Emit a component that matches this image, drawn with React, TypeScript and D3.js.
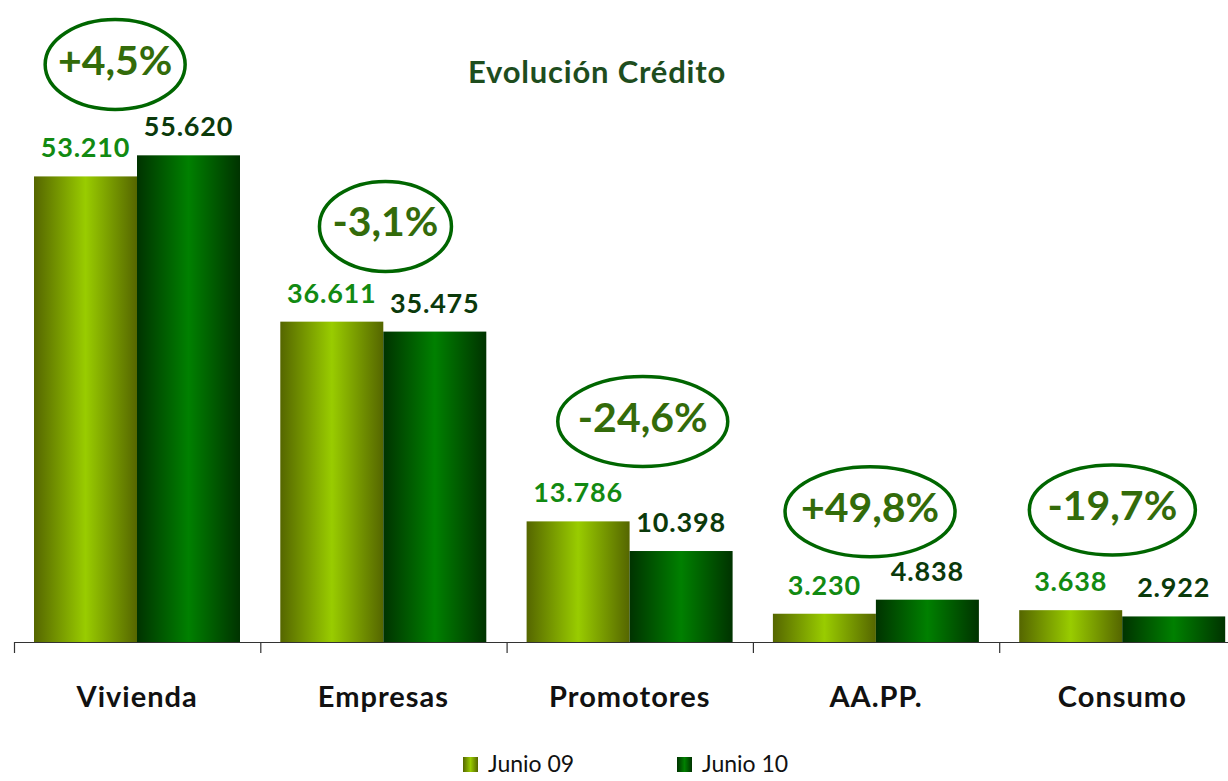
import React from "react";
import * as d3 from "d3";

const categories = ["Vivienda", "Empresas", "Promotores", "AA.PP.", "Consumo"];
const series = ["Junio 09", "Junio 10"];
const junio09 = [53210, 36611, 13786, 3230, 3638];
const junio10 = [55620, 35475, 10398, 4838, 2922];
const labels09 = ["53.210", "36.611", "13.786", "3.230", "3.638"];
const labels10 = ["55.620", "35.475", "10.398", "4.838", "2.922"];
const changes = ["+4,5%", "-3,1%", "-24,6%", "+49,8%", "-19,7%"];
// ellipse placement (offset from band center, vertical value level)
const changeLevel = [66000, 47500, 25200, 14900, 15100];
const changeDx = [-22, 2, 13, -6, -10];
const changeRx = [70, 66, 85, 85, 83];

const W = 1228;
const H = 781;
const FONT = "Lato, 'Open Sans', sans-serif";

export default function App() {
  const x = d3.scaleBand<string>().domain(categories).range([14, 14 + 5 * 246.3]);
  const xi = d3.scaleBand<string>().domain(series).range([20, 226]);
  const y = d3.scaleLinear().domain([0, 60000]).range([642, 117]);
  const values = [junio09, junio10];
  const lbls = [labels09, labels10];
  const grads = ["g09", "g10"];
  const labelColors = ["#128a12", "#0b3a0b"];

  return (
    <svg width={W} height={H} style={{ position: "absolute", left: 0, top: 0, background: "#fff" }}>
      <defs>
        <linearGradient id="g09" x1="0" x2="1" y1="0" y2="0">
          <stop offset="0" stopColor="#556600" />
          <stop offset="0.5" stopColor="#99cc00" />
          <stop offset="1" stopColor="#556600" />
        </linearGradient>
        <linearGradient id="g10" x1="0" x2="1" y1="0" y2="0">
          <stop offset="0" stopColor="#003300" />
          <stop offset="0.5" stopColor="#008000" />
          <stop offset="1" stopColor="#003300" />
        </linearGradient>
      </defs>
      <rect x={0} y={0} width={W} height={H} fill="#fff" />
      <text x={597} y={83} textAnchor="middle" fontFamily={FONT} fontWeight="bold" fontSize={31} letterSpacing={0.8} fill="#1e4d1e">
        Evolución Crédito
      </text>
      {categories.map((c, i) => (
        <g key={c}>
          {series.map((s, k) => {
            const bx = (x(c) as number) + (xi(s) as number);
            const v = values[k][i];
            return (
              <g key={s}>
                <rect x={bx} y={y(v)} width={xi.bandwidth()} height={y(0) - y(v)} fill={`url(#${grads[k]})`} />
                <text
                  x={bx + xi.bandwidth() / 2}
                  y={y(v) - 19}
                  textAnchor="middle"
                  fontFamily={FONT}
                  fontWeight="bold"
                  fontSize={27}
                  letterSpacing={0.8}
                  fill={labelColors[k]}
                >
                  {lbls[k][i]}
                </text>
              </g>
            );
          })}
          <ellipse
            cx={(x(c) as number) + x.bandwidth() / 2 + changeDx[i]}
            cy={y(changeLevel[i])}
            rx={changeRx[i]}
            ry={45}
            fill="none"
            stroke="#006600"
            strokeWidth={3.5}
          />
          <text
            x={(x(c) as number) + x.bandwidth() / 2 + changeDx[i]}
            y={y(changeLevel[i]) + 10}
            textAnchor="middle"
            fontFamily={FONT}
            fontWeight="bold"
            fontSize={41}
            fill="#336b0a"
          >
            {changes[i]}
          </text>
          <text
            x={(x(c) as number) + x.bandwidth() / 2}
            y={707}
            textAnchor="middle"
            fontFamily={FONT}
            fontWeight="bold"
            fontSize={29}
            letterSpacing={1}
            fill="#111"
          >
            {c}
          </text>
        </g>
      ))}
      <line x1={14} x2={W} y1={642.5} y2={642.5} stroke="#333" strokeWidth={1.2} />
      {categories.map((c) => (
        <line key={c} x1={(x(c) as number) + 0.5} x2={(x(c) as number) + 0.5} y1={642} y2={653} stroke="#333" strokeWidth={1.2} />
      ))}
      {series.map((s, k) => (
        <g key={s} transform={`translate(${463 + k * 214},757)`}>
          <rect x={0} y={0} width={15} height={15} fill={`url(#${grads[k]})`} />
          <text x={25} y={15} fontFamily={FONT} fontSize={23} fill="#111">
            {s}
          </text>
        </g>
      ))}
    </svg>
  );
}
